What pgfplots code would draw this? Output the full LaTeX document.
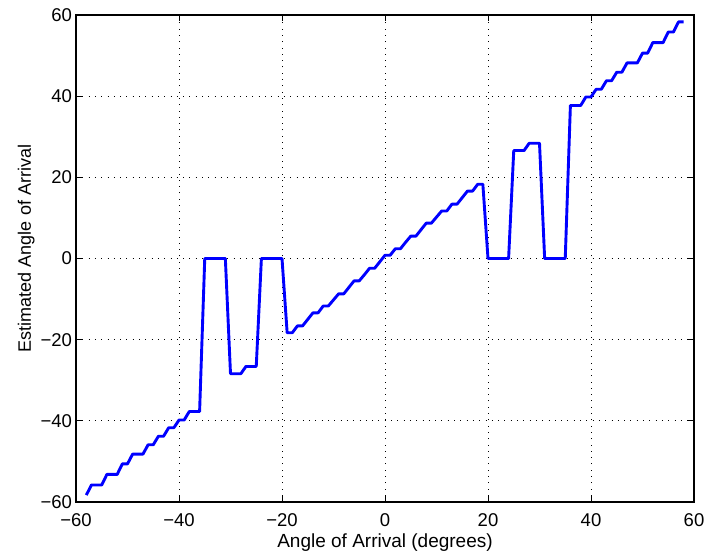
\documentclass[border=0pt]{standalone}
\usepackage{fontspec}
\setmainfont{Liberation Sans}
\usepackage{pgfplots}
\pgfplotsset{compat=1.18}

% estimated vs. true angle of arrival (degrees)
\pgfplotstableread{
true est
-58 -58.3
-57 -55.8
-56 -55.8
-55 -55.8
-54 -53.2
-53 -53.2
-52 -53.2
-51 -50.6
-50 -50.6
-49 -48.2
-48 -48.2
-47 -48.2
-46 -45.9
-45 -45.9
-44 -43.8
-43 -43.8
-42 -41.7
-41 -41.7
-40 -39.8
-39 -39.8
-38 -37.7
-37 -37.7
-36 -37.7
-35 0
-34 0
-33 0
-32 0
-31 0
-30 -28.4
-29 -28.4
-28 -28.4
-27 -26.6
-26 -26.6
-25 -26.6
-24 0
-23 0
-22 0
-21 0
-20 0
-19 -18.3
-18 -18.3
-17 -16.6
-16 -16.6
-15 -15.0
-14 -13.4
-13 -13.4
-12 -11.7
-11 -11.7
-10 -10.2
-9 -8.7
-8 -8.7
-7 -7.1
-6 -5.5
-5 -5.5
-4 -4.0
-3 -2.4
-2 -2.4
-1 -0.8
0 0.8
1 0.8
2 2.4
3 2.4
4 4.0
5 5.5
6 5.5
7 7.1
8 8.7
9 8.7
10 10.2
11 11.7
12 11.7
13 13.4
14 13.4
15 15.0
16 16.6
17 16.6
18 18.3
19 18.3
20 0
21 0
22 0
23 0
24 0
25 26.6
26 26.6
27 26.6
28 28.4
29 28.4
30 28.4
31 0
32 0
33 0
34 0
35 0
36 37.7
37 37.7
38 37.7
39 39.8
40 39.8
41 41.7
42 41.7
43 43.8
44 43.8
45 45.9
46 45.9
47 48.2
48 48.2
49 48.2
50 50.6
51 50.6
52 53.2
53 53.2
54 53.2
55 55.8
56 55.8
57 58.3
58 58.3
}\aoadata

\begin{document}
\begin{tikzpicture}
\begin{axis}[
  scale only axis,
  width=618pt, height=487pt,
  xmin=-60, xmax=60, ymin=-60, ymax=60,
  xtick={-60,-40,...,60}, ytick={-60,-40,...,60},
  xticklabels={−60,−40,−20,0,20,40,60},
  yticklabels={−60,−40,−20,0,20,40,60},
  tick align=inside,
  major tick length=6pt,
  tick style={black, line width=0.8pt},
  axis line style={black, line width=1.1pt},
  grid=major,
  grid style={black, line width=0.7pt, dash pattern=on 0.8pt off 5.5pt},
  tick label style={font=\fontsize{18.5}{21}\selectfont},
  label style={font=\fontsize{19}{22}\selectfont},
  yticklabel style={xshift=-0.5pt},
  xticklabel style={anchor=base, yshift=-24pt},
  xlabel={Angle of Arrival (degrees)},
  ylabel={Estimated Angle of Arrival},
  xlabel style={at={(axis description cs:0.5,0)}, anchor=base, yshift=-45pt},
  ylabel style={at={(axis description cs:0,0.5)}, anchor=base,
                font=\fontsize{18}{21}\selectfont, yshift=45pt, xshift=10pt},
]
\addplot[color={rgb,255:red,0;green,0;blue,255}, line width=2.9pt, line join=round]
  table[x=true, y=est] {\aoadata};
\end{axis}
\pgfresetboundingbox
\useasboundingbox (-76pt,-50pt) rectangle (631pt,502pt);
\end{tikzpicture}
\end{document}
